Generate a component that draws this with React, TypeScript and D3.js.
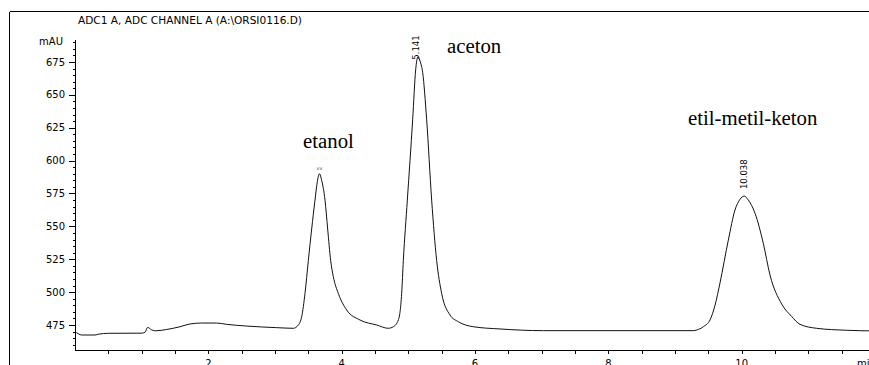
import React from "react";
import * as d3 from "d3";

// ---------- data ----------
const traceTime = [
  0, 0.05, 0.1, 0.3, 0.35, 0.5, 1.0, 1.05, 1.09, 1.15, 1.21, 1.375, 1.575, 1.725, 1.9, 2.125, 2.275, 2.575, 3.025,
  3.275, 3.35, 3.4, 3.45, 3.5, 3.55, 3.6, 3.635, 3.667, 3.7, 3.75, 3.79, 3.835, 3.875, 3.95, 4.075, 4.275, 4.525,
  4.7, 4.775, 4.85, 4.9, 4.925, 4.985, 5.065, 5.11, 5.145, 5.18, 5.215, 5.275, 5.35, 5.425, 5.5, 5.625, 5.75, 5.975,
  6.375, 7.025, 9.275, 9.325, 9.425, 9.525, 9.6, 9.675, 9.8, 9.9, 9.975, 10.038, 10.1, 10.2, 10.325, 10.425, 10.6,
  10.75, 10.875, 11.125, 11.575, 12,
];
const traceSignal = [
  470, 468.3, 467.4, 467.4, 468, 468.7, 468.8, 469.5, 473.2, 471.3, 470.6, 471.6, 473.7, 475.8, 476.5, 476.5, 475.5,
  474.2, 473, 472.5, 475, 481.3, 499, 524, 548, 570, 584, 590, 585, 570, 548, 524, 511.7, 499, 486.4, 478.8, 475,
  472.5, 473.7, 478.8, 499, 524, 570, 631, 669, 679, 675, 667, 631, 570, 524, 499, 482.6, 477.5, 473.7, 472, 470.7,
  470.7, 471.2, 473.7, 478.8, 490, 507, 539.6, 562.5, 570.6, 573, 570, 560, 537, 513, 491, 481.5, 475.5, 472.5, 471,
  470.5,
];

const peakTimes = [5.141, 10.038];
const peakLabels = ["5.141", "10.038"];
const peakHeights = [679, 573];

const compoundNames = ["etanol", "aceton", "etil-metil-keton"];

const yTickValues = [475, 500, 525, 550, 575, 600, 625, 650, 675];
const xTickValues = [2, 4, 6, 8, 10];

const titleText = "ADC1 A, ADC CHANNEL A (A:\\ORSI0116.D)";
const yUnit = "mAU";
const xUnit = "min";

// ---------- layout ----------
const W = 869;
const H = 365;
const axisX = 75;
const axisY = 350;
const x = d3.scaleLinear().domain([0, 12]).range([axisX, axisX + 800]);
const y = d3.scaleLinear().domain([456, 692]).range([axisY, 39.6]);

const compoundPos = [
  { x: 303, y: 148 },
  { x: 447, y: 53 },
  { x: 688, y: 125 },
];
const peakLabelOffset = [
  { dx: 1.5, dy: 3 },
  { dx: 2.5, dy: -7 },
];

export default function App() {
  const pts = traceTime.map((t, i) => [t, traceSignal[i]] as [number, number]);
  const line = d3
    .line<[number, number]>()
    .x((d) => x(d[0]))
    .y((d) => y(d[1]))
    .curve(d3.curveMonotoneX);

  const minorY = d3.range(460, 691, 5);
  const minorX = d3.range(0.5, 12, 0.5);
  const sans = "'DejaVu Sans', Verdana, sans-serif";
  const serif = "'Liberation Serif', 'Times New Roman', serif";

  return (
    <svg
      width={W}
      height={H}
      style={{ position: "absolute", left: 0, top: 0, background: "#fff" }}
      shapeRendering="crispEdges"
    >
      <rect x={0} y={0} width={W} height={H} fill="#fff" />
      {/* frame */}
      <line x1={9.5} y1={11.5} x2={W} y2={11.5} stroke="#000" />
      <line x1={9.5} y1={11.5} x2={9.5} y2={H} stroke="#000" />

      {/* title */}
      <text x={78} y={24} fontFamily={sans} fontSize={10} fill="#000" textLength={224} lengthAdjust="spacingAndGlyphs">
        {titleText}
      </text>

      {/* y axis */}
      <line x1={axisX + 0.5} y1={y(692)} x2={axisX + 0.5} y2={axisY} stroke="#000" />
      {minorY.map((v) => (
        <line key={"ym" + v} x1={axisX - 2.5} x2={axisX} y1={Math.round(y(v)) + 0.5} y2={Math.round(y(v)) + 0.5} stroke="#000" />
      ))}
      {yTickValues.map((v) => (
        <g key={"yt" + v}>
          <line x1={axisX - 6} x2={axisX} y1={Math.round(y(v)) + 0.5} y2={Math.round(y(v)) + 0.5} stroke="#000" />
          <text x={65} y={y(v) + 3.6} textAnchor="end" fontFamily={sans} fontSize={10} fill="#000">
            {v}
          </text>
        </g>
      ))}
      <text x={63} y={45} textAnchor="end" fontFamily={sans} fontSize={10} fill="#000">
        {yUnit}
      </text>

      {/* x axis */}
      <line x1={axisX} y1={axisY + 0.5} x2={W} y2={axisY + 0.5} stroke="#000" />
      {minorX.map((t) => (
        <line key={"xm" + t} x1={Math.round(x(t)) + 0.5} x2={Math.round(x(t)) + 0.5} y1={axisY} y2={axisY + 3.5} stroke="#000" />
      ))}
      {xTickValues.map((t) => (
        <text key={"xt" + t} x={x(t)} y={367} textAnchor="middle" fontFamily={sans} fontSize={10} fill="#000">
          {t}
        </text>
      ))}
      <text x={857} y={367} fontFamily={sans} fontSize={10} fill="#000">
        {xUnit}
      </text>

      {/* trace */}
      <path d={line(pts) || ""} fill="none" stroke="#111" strokeWidth={1} shapeRendering="auto" />

      {/* peak retention-time labels */}
      {peakTimes.map((t, i) => (
        <text
          key={"pk" + i}
          transform={`translate(${x(t) + peakLabelOffset[i].dx},${y(peakHeights[i]) + peakLabelOffset[i].dy}) rotate(-90)`}
          fontFamily={sans}
          fontSize={8.5}
          fill="#000"
        >
          {peakLabels[i]}
        </text>
      ))}
      <text x={x(3.667)} y={170} textAnchor="middle" fontFamily={sans} fontSize={5} fill="#555">
        vv
      </text>

      {/* compound names */}
      {compoundNames.map((n, i) => (
        <text key={n} x={compoundPos[i].x} y={compoundPos[i].y} fontFamily={serif} fontSize={20.8} fill="#000">
          {n}
        </text>
      ))}
    </svg>
  );
}
